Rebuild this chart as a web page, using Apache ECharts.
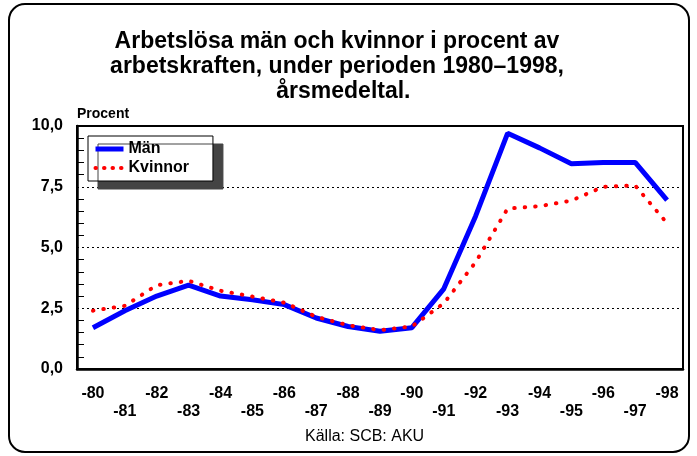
<!DOCTYPE html>
<html>
<head>
<meta charset="utf-8">
<script src="https://cdn.jsdelivr.net/npm/echarts@6/dist/echarts.min.js"></script>
<style>
  html, body { margin: 0; padding: 0; background: #fff; }
  #chart { width: 697px; height: 456px; }
</style>
</head>
<body>
<div id="chart"></div>
<script>
var years = ['-80', '-81', '-82', '-83', '-84', '-85', '-86', '-87', '-88', '-89',
  '-90', '-91', '-92', '-93', '-94', '-95', '-96', '-97', '-98'];
var man = [1.7, 2.4, 3.0, 3.45, 3.0, 2.85, 2.65, 2.1, 1.75, 1.55,
  1.7, 3.3, 6.3, 9.7, 9.1, 8.45, 8.5, 8.5, 6.95];
var kvinnor = [2.4, 2.6, 3.45, 3.63, 3.22, 2.98, 2.73, 2.15, 1.8, 1.6,
  1.75, 2.7, 4.4, 6.6, 6.7, 6.93, 7.5, 7.55, 6.0];

var font = 'Liberation Sans, Arial, sans-serif';
var chart = echarts.init(document.getElementById('chart'));

chart.setOption({
  animation: false,
  textStyle: { fontFamily: font },
  title: {
    text: 'Arbetslösa män och kvinnor i procent av\narbetskraften, under perioden 1980–1998,\n  årsmedeltal.',
    left: 332,
    top: 24,
    textAlign: 'center',
    textStyle: { fontSize: 23, fontWeight: 'bold', color: '#000', lineHeight: 25, fontFamily: font }
  },
  graphic: [
    {
      type: 'rect',
      shape: { x: 9, y: 4, width: 680, height: 448, r: 16 },
      style: { fill: 'none', stroke: '#000', lineWidth: 2 },
      silent: true
    },
    {
      type: 'text',
      left: 77, top: 107,
      style: { text: 'Procent', font: 'bold 14px ' + font, fill: '#000' }
    },
    {
      type: 'text',
      left: 305, top: 429,
      style: { text: 'Källa: SCB: AKU', font: '16px ' + font, fill: '#000' }
    }
  ],
  legend: {
    orient: 'vertical',
    left: 88, top: 136,
    padding: [5, 24, 5, 5],
    itemGap: 3,
    itemWidth: 28, itemHeight: 14,
    backgroundColor: '#fff',
    borderColor: '#000', borderWidth: 1,
    shadowColor: '#444', shadowBlur: 0, shadowOffsetX: 10, shadowOffsetY: 8,
    itemStyle: { opacity: 0 },
    textStyle: { fontSize: 16, fontWeight: 'bold', color: '#000', fontFamily: font },
    data: [
      { name: 'Män', lineStyle: { width: 5, color: '#0000ff' } },
      { name: 'Kvinnor', lineStyle: { width: 4, color: '#ff0000', type: [0.5, 8], cap: 'round' } }
    ]
  },
  grid: {
    left: 77, right: 14, top: 126, bottom: 87,
    show: true, borderColor: '#000', borderWidth: 2
  },
  xAxis: {
    type: 'category',
    data: years,
    axisLine: { lineStyle: { color: '#000', width: 2.5 } },
    axisTick: { inside: true, alignWithLabel: true, length: 7, lineStyle: { color: '#000' } },
    axisLabel: {
      interval: 0, margin: 16,
      color: '#000', fontSize: 16, fontWeight: 'bold', lineHeight: 18,
      formatter: function (v, i) { return i % 2 ? '\n' + v : v; }
    }
  },
  yAxis: {
    type: 'value',
    min: 0, max: 10, interval: 2.5,
    axisLine: { show: true, lineStyle: { color: '#000', width: 2.5 } },
    axisTick: { inside: true, length: 7, lineStyle: { color: '#000' } },
    minorTick: { show: true, splitNumber: 5, length: 7, lineStyle: { color: '#000' } },
    axisLabel: {
      margin: 14, color: '#000', fontSize: 16, fontWeight: 'bold',
      formatter: function (v) { return v.toFixed(1).replace('.', ','); }
    },
    splitLine: { show: true, lineStyle: { color: '#000', type: [2, 3], width: 1 } }
  },
  series: [
    {
      name: 'Män',
      type: 'line',
      data: man,
      symbol: 'none',
      color: '#0000ff',
      lineStyle: { color: '#0000ff', width: 5 }
    },
    {
      name: 'Kvinnor',
      type: 'line',
      data: kvinnor,
      symbol: 'none',
      color: '#ff0000',
      lineStyle: { color: '#ff0000', width: 4, type: [0.5, 10], cap: 'round' }
    }
  ]
});
</script>
</body>
</html>
